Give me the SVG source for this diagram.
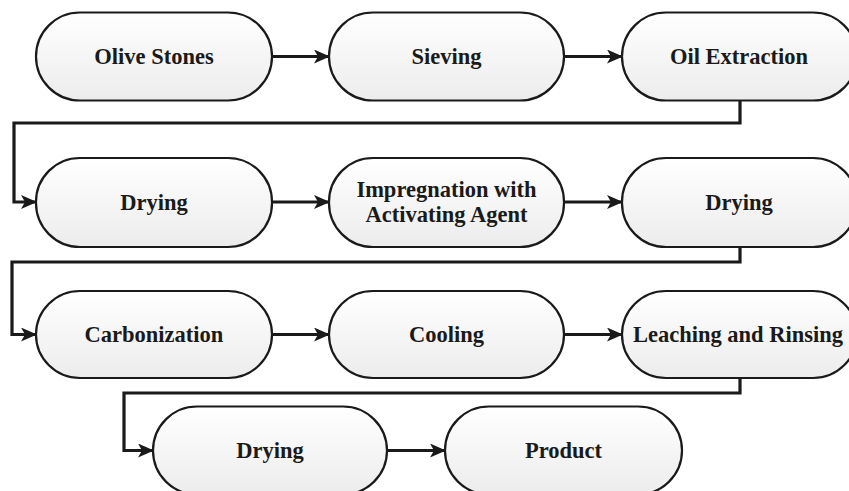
<svg xmlns="http://www.w3.org/2000/svg" width="849" height="491" viewBox="0 0 849 491">
<defs>
<linearGradient id="g" x1="0" y1="0" x2="0" y2="1">
<stop offset="0" stop-color="#ffffff"/>
<stop offset="1" stop-color="#ececec"/>
</linearGradient>
<marker id="arr" markerWidth="16" markerHeight="14" refX="15" refY="7" orient="auto" markerUnits="userSpaceOnUse">
<path d="M0,0 L16,7 L0,14 L4,7 Z" fill="#1a1a1a"/>
</marker>
<style>
.n rect{fill:url(#g);stroke:#1a1a1a;stroke-width:2.2}
.n text{font-family:"Liberation Serif","Times New Roman",serif;font-weight:bold;font-size:22.5px;fill:#1a1a1a;text-anchor:middle}
.c path{fill:none;stroke:#1a1a1a;stroke-width:3.2;marker-end:url(#arr)}
</style>
</defs>
<rect width="849" height="491" fill="#ffffff"/>
<g class="c" id="connectors">
<path d="M272,56.5 H329"/>
<path d="M564,56.5 H622"/>
<path d="M740,100 V123 H14 V202 H36"/>
<path d="M272,202 H329"/>
<path d="M564,202 H622"/>
<path d="M740,247 V262 H12 V334.5 H36"/>
<path d="M272,334.5 H329"/>
<path d="M564,334.5 H622"/>
<path d="M740,378 V393 H124 V450.5 H153"/>
<path d="M387,450.5 H445"/>
</g>
<g class="n" id="olive-stones"><rect x="36" y="12.5" width="236" height="88" rx="44" ry="44"/><text x="154" y="64">Olive Stones</text></g>
<g class="n" id="sieving"><rect x="329" y="12.5" width="235" height="88" rx="44" ry="44"/><text x="446.5" y="64">Sieving</text></g>
<g class="n" id="oil-extraction"><rect x="622" y="12.5" width="235" height="88" rx="44" ry="44"/><text x="739" y="64">Oil Extraction</text></g>
<g class="n" id="drying-1"><rect x="36" y="158" width="236" height="89" rx="44" ry="44"/><text x="154" y="209.5">Drying</text></g>
<g class="n" id="impregnation"><rect x="329" y="158" width="235" height="89" rx="44" ry="44"/><text x="446.5" y="197">Impregnation with</text><text x="446.5" y="222">Activating Agent</text></g>
<g class="n" id="drying-2"><rect x="622" y="158" width="235" height="89" rx="44" ry="44"/><text x="739" y="209.5">Drying</text></g>
<g class="n" id="carbonization"><rect x="36" y="291" width="236" height="87" rx="44" ry="44"/><text x="154" y="342">Carbonization</text></g>
<g class="n" id="cooling"><rect x="329" y="291" width="235" height="87" rx="44" ry="44"/><text x="446.5" y="342">Cooling</text></g>
<g class="n" id="leaching"><rect x="622" y="291" width="235" height="87" rx="44" ry="44"/><text x="738" y="342">Leaching and Rinsing</text></g>
<g class="n" id="drying-3"><rect x="153" y="406.5" width="234" height="88" rx="44" ry="44"/><text x="270" y="458">Drying</text></g>
<g class="n" id="product"><rect x="445" y="406.5" width="237" height="88" rx="44" ry="44"/><text x="563.5" y="458">Product</text></g>
</svg>
